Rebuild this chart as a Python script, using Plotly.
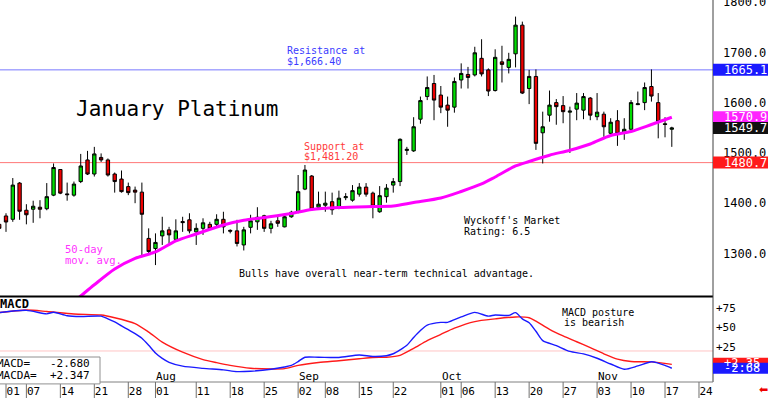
import pandas as pd
import plotly.graph_objects as go

# ---------------- categories (trading days on the axis) ----------------
_all = pd.bdate_range("2025-06-30", "2025-11-24")
holidays = ["2025-07-04", "2025-09-01"]
axis_days = [d.strftime("%Y-%m-%d") for d in _all if d.strftime("%Y-%m-%d") not in holidays]
pos = {d: i for i, d in enumerate(axis_days)}

# ---------------- daily candles (Jun 30 .. Nov 18) ----------------
opens = [1358, 1374.6, 1368, 1440, 1386, 1388, 1392, 1389, 1416, 1467,
         1418.5, 1416, 1443, 1486, 1458, 1491, 1486, 1458, 1448, 1433,
         1426, 1422, 1330, 1310, 1335, 1347, 1328, 1363.5, 1367, 1343,
         1350, 1358, 1358, 1368, 1346, 1345, 1317, 1352, 1363, 1375,
         1350, 1365, 1353, 1373, 1382, 1428, 1454, 1392, 1396, 1403,
         1390, 1411, 1406, 1418, 1432, 1420, 1383, 1413, 1436, 1443,
         1505, 1504, 1567, 1612, 1638, 1615, 1595, 1591, 1645, 1656,
         1655, 1688, 1665, 1624, 1681, 1670, 1697, 1754, 1628, 1652,
         1540, 1575, 1600, 1594, 1581, 1587, 1585, 1609, 1572, 1577,
         1539, 1564, 1539, 1547, 1596, 1600, 1632, 1600, 1558, 1547]
highs = [1360, 1380, 1450, 1442, 1398, 1405, 1406, 1440, 1479, 1468,
         1441, 1443, 1498, 1504, 1512, 1499, 1489, 1461, 1465, 1441,
         1433, 1441, 1350, 1340, 1373, 1353, 1368, 1373, 1380, 1360,
         1370, 1363, 1378, 1383, 1348, 1367, 1353, 1377, 1392, 1377,
         1365, 1373, 1377, 1385, 1456, 1476, 1456, 1423, 1423, 1421,
         1425, 1420, 1436, 1440, 1440, 1423, 1434, 1438, 1450, 1529,
         1512, 1571, 1612, 1652, 1655, 1633, 1612, 1650, 1678, 1671,
         1711, 1726, 1668, 1706, 1713, 1699, 1771, 1761, 1665, 1666,
         1582, 1624, 1607, 1613, 1592, 1619, 1619, 1611, 1619, 1582,
         1569, 1585, 1569, 1605, 1622, 1640, 1666, 1619, 1571, 1552]
lows = [1345, 1343, 1363, 1367, 1358, 1361, 1370, 1386, 1414, 1418,
        1405, 1413, 1440, 1456, 1453, 1482, 1453, 1421, 1421, 1416,
        1400, 1294, 1297, 1277, 1317, 1320, 1323, 1343, 1340, 1317,
        1337, 1347, 1353, 1340, 1340, 1314, 1306, 1340, 1347, 1343,
        1340, 1353, 1352, 1371, 1380, 1426, 1385, 1388, 1383, 1377,
        1388, 1406, 1403, 1413, 1413, 1370, 1381, 1401, 1421, 1434,
        1496, 1502, 1558, 1605, 1565, 1579, 1552, 1580, 1628, 1628,
        1652, 1652, 1613, 1622, 1640, 1658, 1670, 1617, 1597, 1506,
        1479, 1562, 1556, 1559, 1500, 1565, 1567, 1565, 1565, 1532,
        1532, 1514, 1526, 1546, 1595, 1585, 1602, 1529, 1531, 1512]
closes = [1350, 1362.6, 1436, 1384, 1377, 1394, 1388, 1413, 1471, 1420,
          1417, 1438, 1474, 1458, 1498, 1486, 1456, 1443, 1423, 1421,
          1422, 1378, 1304, 1322, 1345, 1337, 1345, 1361.5, 1345, 1350,
          1361, 1349, 1368, 1353, 1344.5, 1320, 1347, 1365, 1372, 1350,
          1359, 1360, 1373, 1382, 1423, 1466, 1388, 1398, 1400, 1387,
          1410, 1413, 1425, 1432, 1418, 1394, 1415, 1430, 1443, 1527,
          1507, 1552, 1604, 1630, 1605, 1591, 1585, 1642, 1658, 1650,
          1699, 1657, 1623, 1690, 1676, 1686, 1754, 1619, 1652, 1519,
          1552, 1595, 1592, 1582, 1583, 1599, 1612, 1575, 1581, 1552,
          1561, 1538, 1547, 1600, 1597.5, 1630, 1613, 1562, 1556.5, 1549.7]
candle_days = axis_days[:len(closes)]

# ---------------- 50-day moving average ----------------
ma_days = ["2025-07-14", "2025-07-17", "2025-07-21", "2025-07-24", "2025-07-29",
           "2025-08-01", "2025-08-06", "2025-08-11", "2025-08-15", "2025-08-20",
           "2025-08-25", "2025-08-29", "2025-09-04", "2025-09-10", "2025-09-17",
           "2025-09-22", "2025-09-25", "2025-10-01", "2025-10-06", "2025-10-09",
           "2025-10-13", "2025-10-16", "2025-10-20", "2025-10-23", "2025-10-28",
           "2025-10-31", "2025-11-05", "2025-11-10", "2025-11-13", "2025-11-18"]
ma_values = [1182, 1215.5, 1237.8, 1269.2, 1290.5,
             1303, 1324.9, 1338.8, 1356.7, 1366,
             1371.6, 1379.5, 1387.5, 1391.4, 1393.4,
             1394.4, 1401.4, 1410.4, 1423.3, 1438.2,
             1452.1, 1474, 1482.9, 1495.4, 1505.4,
             1517.7, 1534.6, 1542.6, 1556.5, 1570.9]

# ---------------- MACD (blue) and MACDA / signal (red) ----------------
macd_days = ["2025-06-30", "2025-07-07", "2025-07-10", "2025-07-11", "2025-07-15",
             "2025-07-17", "2025-07-22", "2025-07-23", "2025-07-24", "2025-07-25",
             "2025-07-28", "2025-07-29", "2025-07-30", "2025-07-31", "2025-08-01",
             "2025-08-04", "2025-08-05", "2025-08-07", "2025-08-12", "2025-08-15",
             "2025-08-19", "2025-08-21", "2025-08-26", "2025-08-28", "2025-08-29",
             "2025-09-02", "2025-09-03", "2025-09-05", "2025-09-10", "2025-09-15",
             "2025-09-17", "2025-09-19", "2025-09-22", "2025-09-23", "2025-09-24",
             "2025-09-25", "2025-09-26", "2025-09-29", "2025-10-01", "2025-10-02",
             "2025-10-06", "2025-10-08", "2025-10-10", "2025-10-13", "2025-10-15",
             "2025-10-16", "2025-10-17", "2025-10-20", "2025-10-21", "2025-10-22",
             "2025-10-24", "2025-10-28", "2025-10-30", "2025-11-03", "2025-11-05",
             "2025-11-07", "2025-11-11", "2025-11-13", "2025-11-14", "2025-11-17",
             "2025-11-18"]
macd_values = [69, 72, 67.5, 69.5, 65,
               64, 64.5, 61, 57, 52,
               47, 42, 36, 27, 17,
               10, 5, 0, -2.8, -4.8,
               -7, -6.5, -4, -1, 1,
               6, 11.5, 11.5, 11.2, 14.5,
               12.5, 13.5, 16, 21, 27,
               37, 46, 53, 56.5, 56.5,
               63.5, 69.4, 64.5, 66, 65.5,
               69, 61, 56, 45, 33,
               26.5, 19, 15.8, 10.2, 2.8,
               -4, 0.3, 5.8, 4, 1,
               -2.68]
signal_days = ["2025-06-30", "2025-07-07", "2025-07-10", "2025-07-16", "2025-07-22",
               "2025-07-24", "2025-07-29", "2025-07-31", "2025-08-04", "2025-08-07",
               "2025-08-12", "2025-08-14", "2025-08-18", "2025-08-21", "2025-08-26",
               "2025-08-28", "2025-09-02", "2025-09-05", "2025-09-10", "2025-09-15",
               "2025-09-17", "2025-09-19", "2025-09-23", "2025-09-25", "2025-09-29",
               "2025-10-01", "2025-10-03", "2025-10-08", "2025-10-13", "2025-10-16",
               "2025-10-20", "2025-10-21", "2025-10-23", "2025-10-27", "2025-10-29",
               "2025-10-31", "2025-11-04", "2025-11-06", "2025-11-10", "2025-11-13",
               "2025-11-18"]
signal_values = [69, 72.4, 70.5, 67.3, 66,
                 62.5, 55, 44, 31, 18,
                 8.5, 4.5, 1, -2.7, -3.6,
                 -3.2, 1, 4.7, 7, 9.5,
                 11.2, 11.5, 14, 23, 33,
                 41, 49, 57.5, 61, 63.5,
                 62.5, 58, 47.5, 39, 31.5,
                 24, 16, 9, 6, 5.6,
                 2.35]

# ---------------- axis ticks & labels ----------------
tick_days = ["2025-07-01", "2025-07-07", "2025-07-14", "2025-07-21", "2025-07-28",
             "2025-08-01", "2025-08-11", "2025-08-18", "2025-08-25", "2025-09-02",
             "2025-09-08", "2025-09-15", "2025-09-22", "2025-10-01", "2025-10-06",
             "2025-10-13", "2025-10-20", "2025-10-27", "2025-11-03", "2025-11-10",
             "2025-11-17", "2025-11-24"]
tick_labels = ["01", "07", "14", "21", "28", "01", "11", "18", "25", "02", "08",
               "15", "22", "01", "06", "13", "20", "27", "03", "10", "17", "24"]
month_days = ["2025-08-01", "2025-09-02", "2025-10-01", "2025-11-03"]
month_names = ["Aug", "Sep", "Oct", "Nov"]
price_ticks = [1300, 1400, 1500, 1600, 1700, 1800]
price_tick_text = ["1300.0", "1400.0", "1500.0", "1600.0", "1700.0", "1800.0"]
macd_ticks = [25, 50, 75]
macd_tick_text = ["+25", "+50", "+75"]

resistance_level = 1665.1
support_level = 1480.7
ma_last = 1570.9
close_last = 1549.7
macd_last = -2.68
signal_last = 2.35
macd_ref_level = 19.6

# ---------------- geometry ----------------
W, H = 768, 398
MR, MB = 55, 16
PW, PH = W - MR, H - MB
FONT = "DejaVu Sans Mono"


def fx(px):
    return px / PW


def fy(py):
    return (PH - py) / PH


X0 = 0.117
X1 = X0 + PW / 6.794

fig = go.Figure()

fig.add_trace(go.Candlestick(
    x=[pos[d] for d in candle_days], open=opens, high=highs, low=lows, close=closes,
    increasing=dict(fillcolor="#00dd00", line=dict(color="black", width=1)),
    decreasing=dict(fillcolor="#ee0000", line=dict(color="black", width=1)),
    whiskerwidth=0, xaxis="x", yaxis="y", showlegend=False, hoverinfo="skip"))

fig.add_trace(go.Scatter(
    x=[pos[d] for d in ma_days], y=ma_values, mode="lines",
    line=dict(color="#ff00ff", width=3, shape="spline", smoothing=0.8),
    xaxis="x", yaxis="y", showlegend=False, hoverinfo="skip"))

fig.add_trace(go.Scatter(
    x=[pos[d] for d in signal_days], y=signal_values, mode="lines",
    line=dict(color="#ff1a1a", width=1.4, shape="spline", smoothing=0.7),
    xaxis="x2", yaxis="y2", showlegend=False, hoverinfo="skip"))
fig.add_trace(go.Scatter(
    x=[pos[d] for d in macd_days], y=macd_values, mode="lines",
    line=dict(color="#1a1aff", width=1.4, shape="spline", smoothing=0.7),
    xaxis="x2", yaxis="y2", showlegend=False, hoverinfo="skip"))

shapes = []
# support / resistance lines
shapes.append(dict(type="line", xref="paper", x0=0, x1=1, yref="y", y0=resistance_level,
                   y1=resistance_level, line=dict(color="#7878ff", width=1), layer="below"))
shapes.append(dict(type="line", xref="paper", x0=0, x1=1, yref="y", y0=support_level,
                   y1=support_level, line=dict(color="#ff7878", width=1), layer="below"))
shapes.append(dict(type="line", xref="paper", x0=0, x1=1, yref="y2", y0=macd_ref_level,
                   y1=macd_ref_level, line=dict(color="#ffc4c4", width=1), layer="below"))
# panel separators
shapes.append(dict(type="line", xref="paper", x0=0, x1=1, yref="paper", y0=fy(296.5),
                   y1=fy(296.5), line=dict(color="black", width=2)))
shapes.append(dict(type="line", xref="paper", x0=1, x1=1, yref="paper", y0=0, y1=1,
                   line=dict(color="#404040", width=1)))
shapes.append(dict(type="line", xref="paper", x0=0, x1=1, yref="paper", y0=0, y1=0,
                   line=dict(color="#808080", width=1)))
# day separators in bottom band
for d in tick_days:
    shapes.append(dict(type="line", xref="x2", x0=pos[d], x1=pos[d], yref="paper",
                       y0=-MB / PH, y1=0, line=dict(color="#707070", width=1)))
# MACD value box
shapes.append(dict(type="rect", xref="paper", x0=-0.02, x1=fx(100), yref="paper",
                   y0=-0.005, y1=fy(357), line=dict(color="#909090", width=1),
                   fillcolor="white", layer="above"))

annotations = []


def tag(level, yref, text, color, half=6):
    shapes.append(dict(type="rect", xref="paper", x0=1, x1=1 + MR / PW, yref=yref,
                       ysizemode="pixel", yanchor=level, y0=-half, y1=half,
                       fillcolor=color, line=dict(width=0), layer="above"))
    annotations.append(dict(xref="paper", x=1, xanchor="left", xshift=9, yref=yref, y=level,
                            yanchor="middle", text=text, showarrow=False,
                            font=dict(family=FONT, size=12, color="white")))


tag(resistance_level, "y", f"{resistance_level:.1f}", "#1a1aff")
tag(ma_last, "y", f"{ma_last:.1f}", "#ff22ff")
tag(close_last, "y", f"{close_last:.1f}", "#111111")
tag(support_level, "y", f"{support_level:.1f}", "#ff1a1a")
tag(signal_last + 1.5, "y2", f"{signal_last:+.2f}", "#ff1a1a", half=5.5)
tag(macd_last, "y2", f"{macd_last:.2f}", "#1a1aff", half=5.5)


def label(text, x, y, color="black", size=10, bold=False):
    if bold:
        text = "<b>" + text + "</b>"
    annotations.append(dict(xref="paper", yref="paper", x=fx(x), y=fy(y), xanchor="left",
                            yanchor="middle", text=text, showarrow=False, borderpad=0,
                            font=dict(family=FONT, size=size, color=color)))


label("January Platinum", 75, 109, size=21)
label("Resistance at", 286, 51, color="#3b3bff")
label("$1,666.40", 286, 61.5, color="#3b3bff")
label("Support at", 303, 146, color="#ff3a3a")
label("$1,481.20", 303, 156, color="#ff3a3a")
label("50-day", 64, 249.5, color="#ff33ff", size=10.5)
label("mov. avg.", 64, 260, color="#ff33ff", size=10.5)
label("Wyckoff's Market", 463, 220.5)
label("Rating: 6.5", 463, 231.5)
label("Bulls have overall near-term technical advantage.", 238, 273.5)
label("MACD posture", 561, 312.5)
label("is bearish", 563, 322.5)
label("MACD", -1, 304, size=12, bold=True)
label("MACD=   -2.680", -4, 363, size=11)
label("MACDA=  +2.347", -4, 375.5, size=11)

for d, m in zip(month_days, month_names):
    annotations.append(dict(xref="x2", x=pos[d], xanchor="left", xshift=0, yref="paper",
                            y=fy(376), yanchor="middle", text=m, showarrow=False,
                            borderpad=0, font=dict(family=FONT, size=11, color="black")))

annotations.append(dict(xref="paper", x=fx(763), yref="paper", y=fy(389), xanchor="center",
                        yanchor="middle", text="⬅", showarrow=False,
                        font=dict(family="DejaVu Sans", size=11, color="#ee0000")))

fig.update_layout(
    width=W, height=H,
    margin=dict(l=0, r=MR, t=0, b=MB, pad=0, autoexpand=False),
    paper_bgcolor="white", plot_bgcolor="white",
    showlegend=False,
    xaxis=dict(domain=[0, 1], range=[X0, X1], anchor="y", showticklabels=False,
               automargin=False,
               showgrid=False, zeroline=False, rangeslider=dict(visible=False), ticks=""),
    xaxis2=dict(domain=[0, 1], range=[X0, X1], anchor="y2", showgrid=False, zeroline=False,
                automargin=False,
                tickmode="array", tickvals=[pos[d] + 1.05 for d in tick_days],
                ticktext=tick_labels, ticks="", ticklabelstandoff=1,
                tickfont=dict(family=FONT, size=11, color="black")),
    yaxis=dict(domain=[fy(296), 1], range=[1215.5, 1804], side="right", anchor="x",
               automargin=False,
               showgrid=False, zeroline=False, tickmode="array", tickvals=price_ticks,
               ticktext=price_tick_text, ticks="", ticklabelstandoff=9,
               ticklabeloverflow="allow",
               tickfont=dict(family=FONT, size=12, color="black")),
    yaxis2=dict(domain=[0, fy(297)], range=[-20.4, 89.2], side="right", anchor="x2",
                automargin=False,
                showgrid=False, zeroline=False, tickmode="array", tickvals=macd_ticks,
                ticktext=macd_tick_text, ticks="", ticklabelstandoff=2,
                tickfont=dict(family=FONT, size=11, color="black")),
    shapes=shapes,
    annotations=annotations,
)

fig.write_html("out.html", config={"displayModeBar": False},
               post_script="document.body.style.margin='0';document.body.style.overflow='hidden';")
